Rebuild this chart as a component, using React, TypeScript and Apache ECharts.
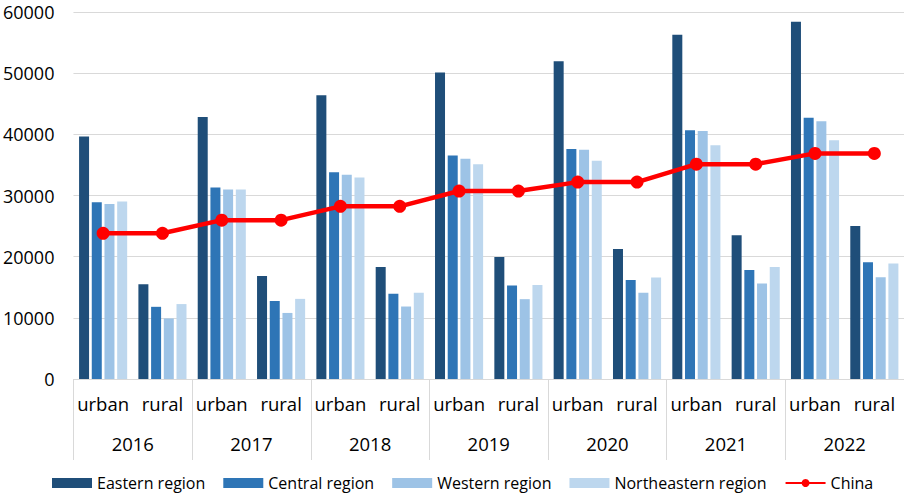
import React, { useEffect, useRef } from "react";
import * as echarts from "echarts";

const categories = ["urban", "rural", "urban", "rural", "urban", "rural", "urban", "rural", "urban", "rural", "urban", "rural", "urban", "rural"];
const years = ["2016", "2017", "2018", "2019", "2020", "2021", "2022"];
const eastern = [39650, 15500, 42850, 16850, 46400, 18300, 50100, 19950, 51950, 21250, 56300, 23500, 58400, 25000];
const central = [28880, 11800, 31300, 12750, 33800, 13950, 36550, 15300, 37600, 16200, 40650, 17800, 42700, 19100];
const western = [28600, 9900, 31000, 10800, 33400, 11850, 36000, 13050, 37500, 14100, 40550, 15600, 42150, 16650];
const northeastern = [29000, 12250, 31000, 13100, 32950, 14100, 35100, 15350, 35700, 16600, 38200, 18300, 39050, 18900];
const china = [23821, 23821, 25974, 25974, 28228, 28228, 30733, 30733, 32189, 32189, 35128, 35128, 36883, 36883];
const yTicks = [0, 10000, 20000, 30000, 40000, 50000, 60000];

const FONT = "'Open Sans', sans-serif";

export default function App() {
  const ref = useRef<HTMLDivElement>(null);
  useEffect(() => {
    if (!ref.current) return;
    const chart = echarts.init(ref.current, null, { renderer: "svg" });
    const barBase = { type: "bar", barWidth: 10, barGap: "27%", xAxisIndex: 0 };
    chart.setOption({
      animation: false,
      textStyle: { fontFamily: FONT },
      grid: { left: 72, right: 0, top: 12, bottom: 118, containLabel: false },
      legend: {
        left: 47,
        top: 470,
        itemWidth: 40,
        itemHeight: 10,
        itemGap: 18,
        textStyle: { fontSize: 16, color: "#000", fontFamily: FONT },
        data: [
          { name: "Eastern region", icon: "rect" },
          { name: "Central region", icon: "rect" },
          { name: "Western region", icon: "rect" },
          { name: "Northeastern region", icon: "rect" },
          { name: "China" },
        ],
      },
      xAxis: [
        {
          type: "category",
          data: categories,
          position: "bottom",
          axisLine: { show: true, lineStyle: { color: "#d9d9d9", width: 1 } },
          axisTick: { show: false },
          axisLabel: { fontSize: 18.5, color: "#000", margin: 15, fontFamily: FONT, interval: 0 },
        },
        {
          type: "category",
          data: years,
          position: "bottom",
          axisLine: { show: false },
          axisTick: { show: true, length: 81, lineStyle: { color: "#d9d9d9", width: 1 } },
          axisLabel: { fontSize: 18.5, color: "#000", margin: 55, fontFamily: FONT, interval: 0 },
          splitLine: { show: false },
        },
      ],
      yAxis: {
        type: "value",
        min: yTicks[0],
        max: yTicks[yTicks.length - 1],
        interval: 10000,
        axisLine: { show: false },
        axisTick: { show: false },
        axisLabel: {
          fontSize: 18,
          color: "#000",
          margin: 19,
          fontFamily: FONT,
          formatter: (v: number) => String(v),
        },
        splitLine: { lineStyle: { color: "#d9d9d9", width: 1 } },
      },
      series: [
        { ...barBase, name: "Eastern region", data: eastern, itemStyle: { color: "#1f4e79" } },
        { ...barBase, name: "Central region", data: central, itemStyle: { color: "#2e75b6" } },
        { ...barBase, name: "Western region", data: western, itemStyle: { color: "#9dc3e6" } },
        { ...barBase, name: "Northeastern region", data: northeastern, itemStyle: { color: "#bdd7ee" } },
        {
          type: "line",
          name: "China",
          xAxisIndex: 0,
          data: china,
          symbol: "circle",
          symbolSize: 13,
          lineStyle: { color: "#ff0000", width: 4.5 },
          itemStyle: { color: "#ff0000" },
          z: 10,
        },
      ],
    });
    return () => chart.dispose();
  }, []);
  return (
    <div
      ref={ref}
      style={{ position: "fixed", left: 0, top: 0, width: 904, height: 497, background: "#fff" }}
    />
  );
}
